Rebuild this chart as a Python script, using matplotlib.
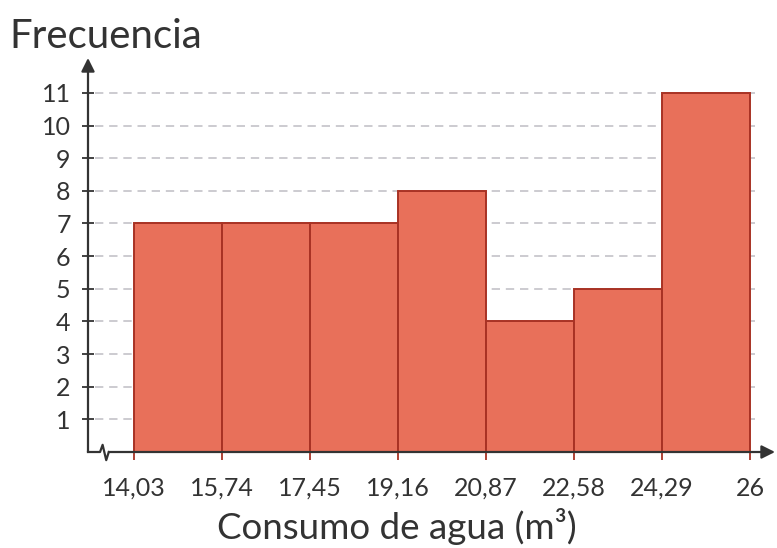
import matplotlib
matplotlib.use("Agg")
from matplotlib import pyplot as plt
import numpy as np

# histograma del consumo de agua
edges = [14.03, 15.74, 17.45, 19.16, 20.87, 22.58, 24.29, 26]
freqs = [7, 7, 7, 8, 4, 5, 11]
edge_labels = ["14,03", "15,74", "17,45", "19,16", "20,87", "22,58", "24,29", "26"]
y_ticks = list(range(1, 12))

bar_color = "#E8705A"
edge_color = "#A83224"
ink = "#333333"

plt.rcParams['font.family'] = ['Lato', 'DejaVu Sans']
plt.rcParams['font.weight'] = 'normal'

fig = plt.figure(figsize=(7.77, 5.48), dpi=100)
ax = fig.add_axes([88/777, 1 - 452/548, 687/777, (452 - 58)/548])

x0, x1 = 13.136, 26.486
y0, y1 = 0, 12.07
ax.set_xlim(x0, x1)
ax.set_ylim(y0, y1)

# lineas de guia discontinuas
ax.hlines(y_ticks, x0 + 0.14, 26.19, colors="#c4c2c8", linestyles=(0, (5, 3.5)),
          linewidth=1.2, zorder=1)

ax.bar(edges[:-1], freqs, width=np.diff(edges), align="edge", color=bar_color,
       edgecolor=edge_color, linewidth=1.4, zorder=2)

for s in ax.spines.values():
    s.set_visible(False)

ax.set_yticks(y_ticks)
ax.set_yticklabels([str(v) for v in y_ticks], fontsize=18, color=ink)
ax.tick_params(axis="y", direction="inout", length=9, width=1.3, color=ink, pad=8)

ax.set_xticks(edges)
ax.set_xticklabels(edge_labels, fontsize=18, color=ink)
ax.tick_params(axis="x", direction="out", length=6, width=1.3, color=edge_color, pad=12)

# eje vertical con flecha
ax.annotate("", xy=(x0, y1), xytext=(x0, 0),
            arrowprops=dict(arrowstyle="-|>", mutation_scale=20, lw=1.6, color=ink,
                            shrinkA=0, shrinkB=0), annotation_clip=False)

# eje horizontal con corte en zigzag
zx = [x0, 13.37, 13.42, 13.49, 13.54]
zy = [0, 0, 0.22, -0.25, 0]
ax.plot(zx, zy, color=ink, lw=1.6, clip_on=False, zorder=3)
ax.annotate("", xy=(x1, 0), xytext=(13.54, 0),
            arrowprops=dict(arrowstyle="-|>", mutation_scale=20, lw=1.6, color=ink,
                            shrinkA=0, shrinkB=0), annotation_clip=False, zorder=3)

fig.text(0.012, 1 - 37/548, "Frecuencia", fontsize=29, color=ink, ha="left", va="center")
fig.text(397/777, 9/548, "Consumo de agua (m³)", fontsize=26.5, color=ink,
         ha="center", va="baseline")

fig.savefig("out.png", dpi=100)
